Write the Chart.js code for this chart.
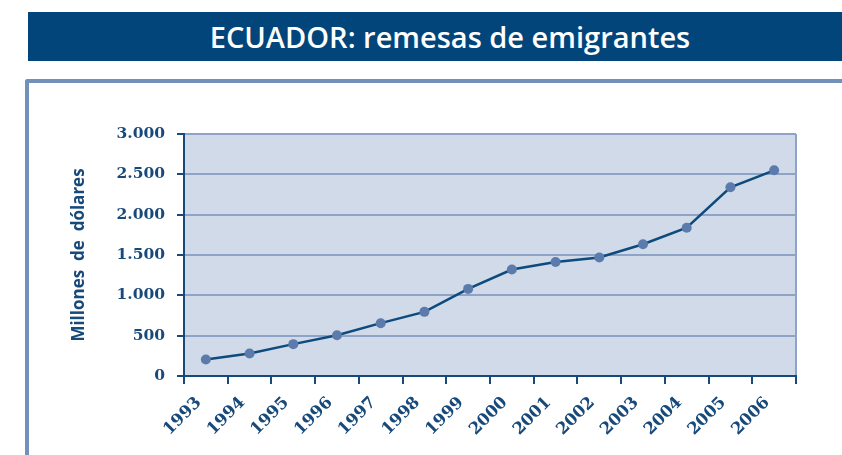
<!DOCTYPE html>
<html>
<head>
<meta charset="utf-8">
<script src="https://cdn.jsdelivr.net/npm/chart.js@4"></script>
<style>
  html, body { margin: 0; padding: 0; background: #fff; }
  #wrap { position: relative; width: 842px; height: 455px; overflow: hidden; }
  #banner {
    position: absolute; left: 28px; top: 12px; width: 814px; height: 49px;
    background: #02457a; color: #fff;
    font-family: 'Open Sans', sans-serif; font-weight: 600; font-size: 29px;
    line-height: 49px; text-align: center; text-indent: 30px;
  }
  #frame {
    position: absolute; left: 25px; top: 79px; width: 840px; height: 400px;
    border-top: 4px solid #7290b9; border-left: 4px solid #7290b9;
    border-top-left-radius: 3px;
  }
  canvas { position: absolute; left: 0; top: 0; }
</style>
</head>
<body>
<div id="wrap">
  <div id="banner">ECUADOR: remesas de emigrantes</div>
  <div id="frame"></div>
  <canvas id="chart" width="842" height="455"></canvas>
</div>
<script>
// años y remesas (millones de dólares)
const years = ['1993', '1994', '1995', '1996', '1997', '1998', '1999',
    '2000', '2001', '2002', '2003', '2004', '2005', '2006'];
const remesas = [205, 280, 395, 505, 655, 795, 1080,
    1320, 1413, 1470, 1633, 1838, 2340, 2550];
const yTicks = [0, 500, 1000, 1500, 2000, 2500, 3000];

const dark = '#17497a',
    gridColor = '#8ea4c6',
    plotFill = '#d0dae8';

// fondo del área del gráfico + borde derecho
const plotBg = {
    id: 'plotBg',
    beforeDraw: (chart) => {
        const { ctx, chartArea: a } = chart;
        ctx.save();
        ctx.fillStyle = plotFill;
        ctx.fillRect(a.left, a.top, a.right - a.left, a.bottom - a.top);
        ctx.strokeStyle = gridColor;
        ctx.lineWidth = 2;
        ctx.beginPath();
        ctx.moveTo(a.right, a.top);
        ctx.lineTo(a.right, a.bottom);
        ctx.stroke();
        ctx.restore();
    }
};

new Chart(document.getElementById('chart'), {
    type: 'line',
    data: {
        labels: years,
        datasets: [{
            data: remesas,
            borderColor: '#0d4a7e',
            borderWidth: 2.5,
            pointRadius: 5,
            pointBackgroundColor: '#5a7bab',
            pointBorderWidth: 0,
            tension: 0
        }]
    },
    options: {
        responsive: false,
        animation: false,
        layout: { padding: { left: 69, right: 46, top: 134, bottom: 0 } },
        plugins: { legend: { display: false }, tooltip: { enabled: false } },
        scales: {
            x: {
                offset: true,
                afterFit: (s) => { s.height = 79; },
                grid: {
                    offset: true,
                    drawOnChartArea: false,
                    tickColor: dark,
                    tickLength: 8,
                    lineWidth: 2
                },
                border: { color: dark, width: 2 },
                ticks: {
                    color: dark,
                    font: { family: 'DejaVu Serif', weight: 'bold', size: 16.5 },
                    minRotation: 45,
                    maxRotation: 45,
                    labelOffset: -7,
                    padding: 9
                }
            },
            y: {
                min: 0,
                max: 3000,
                afterFit: (s) => { s.width = 115; },
                afterBuildTicks: (s) => { s.ticks = yTicks.map(v => ({ value: v })); },
                grid: {
                    color: gridColor,
                    lineWidth: 2,
                    tickColor: dark,
                    tickLength: 7
                },
                border: { color: dark, width: 2 },
                ticks: {
                    color: dark,
                    font: { family: 'DejaVu Serif', weight: 'bold', size: 15.5 },
                    padding: 12,
                    callback: (v) => String(v).replace(/^(\d)(\d{3})$/, '$1.$2')
                },
                title: {
                    display: true,
                    text: 'Millones  de  dólares',
                    color: dark,
                    font: { family: 'Open Sans', weight: 'bold', size: 17 },
                    padding: 0
                }
            }
        }
    },
    plugins: [plotBg]
});
</script>
</body>
</html>
